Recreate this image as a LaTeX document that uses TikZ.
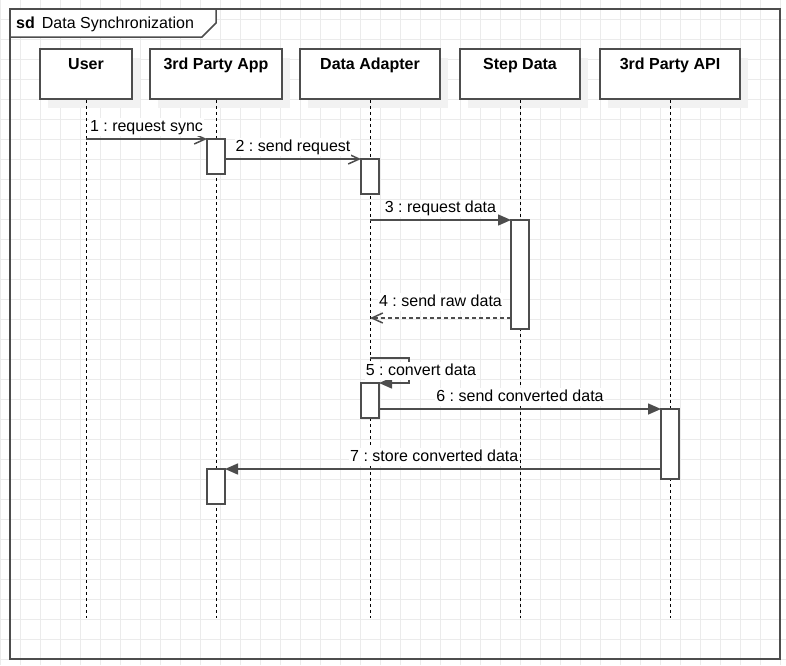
\documentclass[tikz,border=0pt]{standalone}
\usepackage{fontspec}
\setmainfont{Liberation Sans}
\frenchspacing
\usetikzlibrary{arrows.meta,shadows}
\definecolor{umlline}{HTML}{4D4D4D}
\definecolor{gridline}{HTML}{EBEBEB}
\tikzset{
	grid/.style={draw=gridline, line width=1pt},
	frame/.style={draw=umlline, line width=1.5pt},
	head/.style={draw=umlline, line width=1.5pt, fill=white, minimum height=50pt, text height=12pt, text depth=20.6pt, font=\fontsize{16pt}{19pt}\selectfont\bfseries, general shadow={fill=black!5, shadow xshift=8pt, shadow yshift=-9pt}},
	lifeline/.style={draw=black, line width=1pt, dash pattern=on 3pt off 3pt},
	act/.style={draw=umlline, line width=1.5pt, fill=white, minimum width=18pt, inner sep=0, outer sep=0, anchor=north},
	msg/.style={draw=umlline, line width=1.5pt, -{Straight Barb[length=11pt, width=10pt]}},
	msgf/.style={draw=umlline, line width=1.5pt, -{Triangle[length=13pt, width=11pt]}},
	ret/.style={msg, dash pattern=on 4pt off 3pt},
	lbl/.style={fill=white, inner sep=1pt, text height=12pt, text depth=3.5pt}
}
\begin{document}
\begin{tikzpicture}[x=1pt, y=-1pt, font=\fontsize{16pt}{19pt}\selectfont]
	\useasboundingbox (0,0) rectangle (786,665);
	% grid
	\foreach \x in {0,20,...,780}
		\draw[grid] (\x,0) -- (\x,665);
	\foreach \y in {19,39,...,659}
		\draw[grid] (0,\y) -- (786,\y);

	% frame
	\draw[frame] (10,9) rectangle (780,659);
	\filldraw[frame, fill=white] (10,9) -- (216,9) -- (216,23) -- (202,37) -- (10,37) -- cycle;
	\node[anchor=base west, inner sep=0] (title) at (16,28) {\textbf{sd}\hspace{7pt}Data Synchronization};

	% lifelines
	\foreach \n/\x/\w/\t in {u/86/92pt/User, app/216/132pt/3rd Party App, ad/370/140pt/Data Adapter, sd/520/120pt/Step Data, api/670/140pt/3rd Party API}
		\node[head, minimum width=\w] (\n) at (\x,74) {\t};
	\coordinate (end) at (0,618);
	\foreach \n in {u,app,ad,sd,api}
		\draw[lifeline] (\n.south) -- (\n.south |- end);

	% activations
	\node[act, minimum height=35pt] (a1) at (216,139) {};
	\node[act, minimum height=35pt] (a2) at (370,159) {};
	\node[act, minimum height=109pt] (a3) at (520,220) {};
	\node[act, minimum height=35pt] (a4) at (370,383) {};
	\node[act, minimum height=70pt] (a5) at (670,409) {};
	\node[act, minimum height=35pt] (a6) at (216,469) {};

	% messages
	\draw[msg] (u |- a1.north west) -- node[lbl, yshift=12pt] (m1) {1 : request sync} (a1.north west);
	\draw[msg] (a1.east |- a2.north west) -- node[lbl, yshift=12pt] (m2) {2 : send request} (a2.north west);
	\draw[msgf] (ad |- a3.north west) -- node[lbl, yshift=11.5pt] (m3) {3 : request data} (a3.north west);
	\coordinate (r4) at ([yshift=11pt]a3.south west);
	\draw[ret] (r4) -- node[lbl, yshift=16pt] (m4) {4 : send raw data} (ad |- r4);
	\coordinate (s5) at (409,358);
	\draw[msgf] (ad |- s5) -- (s5) |- (a4.north east);
	\node[lbl] (m5) at (421,371) {5 : convert data};
	\draw[msgf] (a4.east |- a5.north west) -- node[lbl, yshift=12pt] (m6) {6 : send converted data} (a5.north west);
	\draw[msgf] (a5.west |- a6.north east) -- node[lbl, yshift=12pt, pos=0.52] (m7) {7 : store converted data} (a6.north east);
\end{tikzpicture}
\end{document}
